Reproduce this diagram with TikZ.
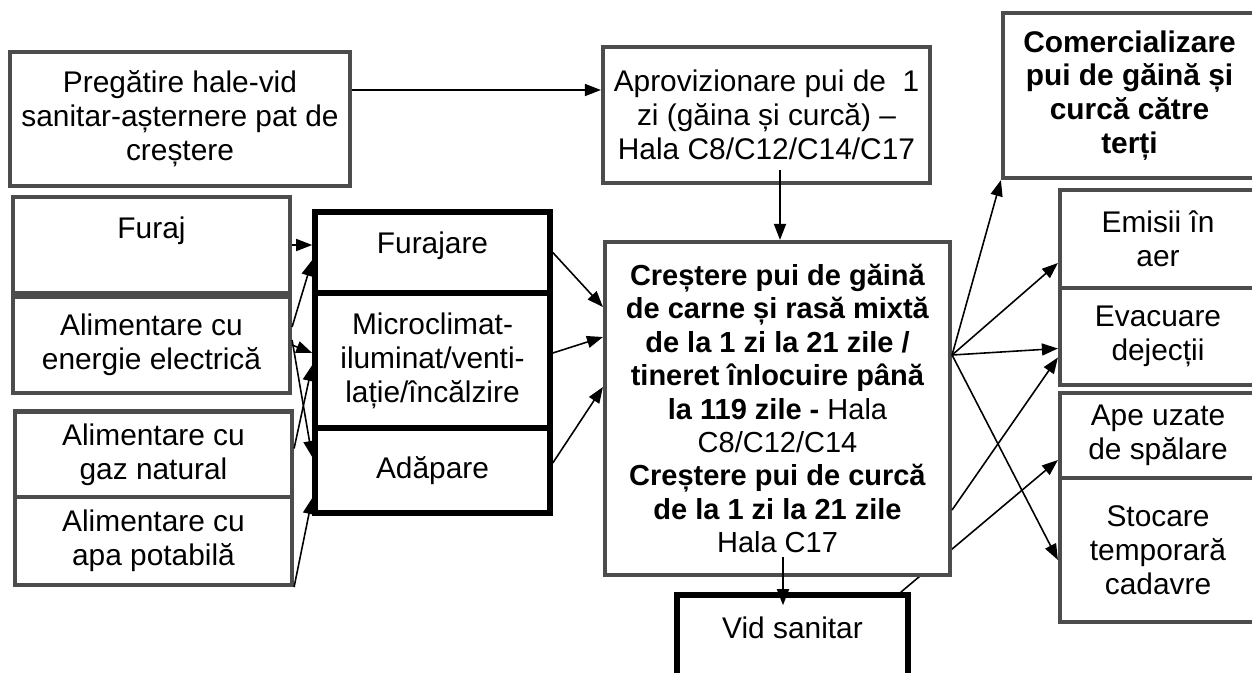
\documentclass[tikz,border=0pt]{standalone}
\usepackage{fontspec}
\setmainfont{Liberation Sans}
\usetikzlibrary{arrows.meta,backgrounds}
\newcommand{\boxfont}{\fontsize{17}{19.3}\selectfont}
\tikzset{
  box/.style={draw=black!70,line width=2.4pt,fill=white,align=center,font=\boxfont,inner sep=2pt},
  heavybox/.style={box,draw=black,line width=3.2pt},
  arr/.style={-{Triangle[length=0.32cm,width=0.24cm]},line width=0.9pt}
}
\begin{document}
\begin{tikzpicture}[x=0.02cm,y=-0.02cm]
\useasboundingbox (0,0) rectangle (1252,673);

% Top row
\node[box,minimum width=6.8cm,minimum height=2.68cm] (prep) at (180,119)
  {Pregătire hale-vid\\sanitar-așternere pat de\\creștere};
\node[box,minimum width=6.54cm,minimum height=2.72cm] (aprov) at (766.5,115)
  {Aprovizionare pui de\ \ 1\\zi (găina și curcă) –\\Hala C8/C12/C14/C17};
\node[box,minimum width=5.06cm,minimum height=3.3cm] (comer) at (1129.5,95.5)
  {\bfseries Comercializare\\\bfseries pui de găină și\\\bfseries curcă către\\\bfseries terți};

% Inputs
\node[box,minimum width=5.54cm,minimum height=1.92cm] (furaj) at (151.5,245) {Furaj\\~};
\node[box,minimum width=5.54cm,minimum height=1.92cm] (energie) at (151.5,345)
  {Alimentare cu\\energie electrică};
\node[box,minimum width=5.54cm,minimum height=1.74cm] (gaz) at (153.5,455)
  {Alimentare cu\\gaz natural};
\node[box,minimum width=5.54cm,minimum height=1.76cm] (apa) at (153.5,541)
  {Alimentare cu\\apa potabilă};

% Utilities
\node[heavybox,minimum width=4.7cm,minimum height=1.62cm] (furajare) at (432.5,252.5) {Furajare\\[-8pt]~};
\node[heavybox,minimum width=4.7cm,minimum height=2.7cm] (micro) at (432.5,360.5)
  {Microclimat-\\iluminat/venti-\\lație/încălzire};
\node[heavybox,minimum width=4.7cm,minimum height=1.7cm] (adapare) at (432.5,470.5) {Adăpare};

% Main process
\node[box,minimum width=6.9cm,minimum height=6.66cm,font=\fontsize{16.5}{19}\selectfont] (central) at (777.5,408.5)
  {\textbf{Creștere pui de găină}\\\textbf{de carne și rasă mixtă}\\\textbf{de la 1 zi la 21 zile /}\\
   \textbf{tineret înlocuire până}\\\textbf{la 119 zile -} Hala\\C8/C12/C14\\
   \textbf{Creștere pui de curcă}\\\textbf{de la 1 zi la 21 zile}\\Hala C17};
\node[heavybox,minimum width=4.62cm,minimum height=2cm] (vid) at (792.5,645) {Vid sanitar\\~};

% Outputs
\node[box,minimum width=3.92cm,minimum height=1.96cm] (emisii) at (1158,239) {Emisii în\\aer};
\node[box,minimum width=3.92cm,minimum height=1.94cm] (evac) at (1158,336.5) {Evacuare\\dejecții};
\node[box,minimum width=3.92cm,minimum height=1.7cm] (ape) at (1158,435.5) {Ape uzate\\de spălare};
\node[box,minimum width=3.92cm,minimum height=2.88cm] (stoc) at (1158,550) {Stocare\\temporară\\cadavre};

% Preparation and supply
\draw[arr] ([yshift=0.58cm]prep.east) -- ([yshift=0.5cm]aprov.west);
\coordinate (apdown) at ([xshift=0.27cm,yshift=0.3cm]aprov.south);
\draw[arr] (apdown) -- (apdown |- central.north);

% Inputs to utilities
\draw[arr] (furaj.east) -- (furaj.east -| furajare.west);
\draw[arr] ([yshift=0.36cm]energie.east) -- ([yshift=-0.15cm]furajare.west);
\draw[arr] (energie.east) -- ([yshift=0.15cm]micro.west);
\draw[arr] ([yshift=0.1cm]energie.east) -- ([yshift=0.27cm]adapare.west);
\draw[arr] ([yshift=0.13cm]gaz.east) -- ([yshift=-0.09cm]micro.west);
\draw[arr] (apa.south east) -- ([yshift=-0.55cm]adapare.west);

% Utilities to main process
\draw[arr] (furajare.east) -- ([yshift=2.03cm]central.west);
\draw[arr] ([yshift=0.15cm]micro.east) -- ([yshift=1.43cm]central.west);
\draw[arr] ([yshift=0.15cm]adapare.east) -- ([yshift=0.43cm]central.west);

% Outputs
\coordinate (fan) at ([yshift=1.07cm]central.east);
\draw[arr] (fan) -- (comer.south west);
\draw[arr] (fan) -- ([yshift=-0.48cm]emisii.west);
\draw[arr] (fan) -- ([yshift=-0.24cm]evac.west);
\draw[arr] (fan) -- ([yshift=-0.2cm]stoc.west);
\draw[arr] ([yshift=-2.03cm]central.east) -- ([yshift=-0.42cm]evac.west);
\draw[arr] ([xshift=0.11cm,yshift=0.4cm]central.south) -- ([xshift=-0.19cm,yshift=-0.26cm]vid.north);
\begin{pgfonlayer}{background}
\draw[arr] ([xshift=-0.2cm]vid.north east) -- ([yshift=-0.49cm]ape.west);
\end{pgfonlayer}

\end{tikzpicture}
\end{document}
